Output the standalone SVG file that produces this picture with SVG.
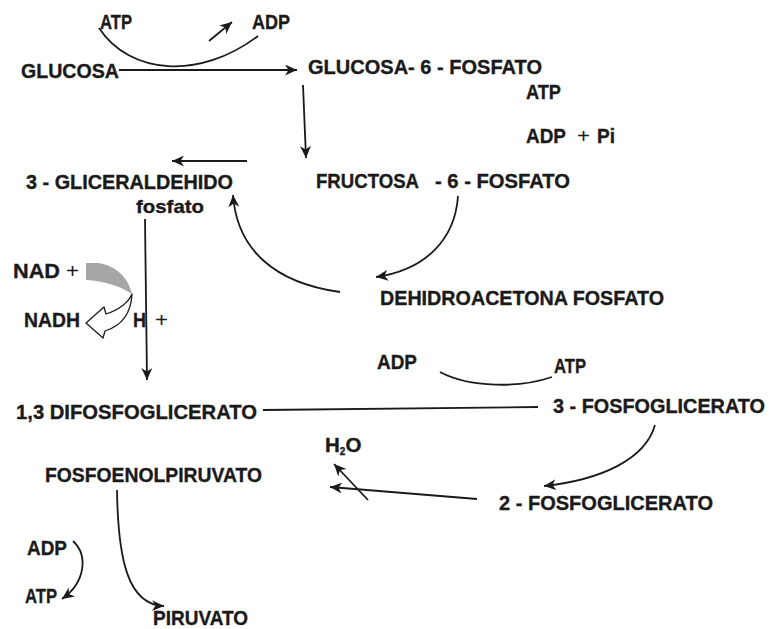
<svg xmlns="http://www.w3.org/2000/svg" width="773" height="629" viewBox="0 0 773 629">
  <defs>
    <style>
      text { font-family: "Liberation Sans", Arial, sans-serif; font-weight: bold; font-size: 20.5px; fill: #1a1a1a; stroke: #1a1a1a; stroke-width: 0.35; }
      .plus { font-weight: normal; stroke-width: 0; }
      .small { font-size: 19px; }
      .sub { font-size: 10px; }
      .line { fill: none; stroke: #1a1a1a; stroke-width: 1.8; }
      .arr { marker-end: url(#head); }
    </style>
    <marker id="head" markerWidth="13" markerHeight="11" refX="12" refY="5.5" orient="auto" markerUnits="userSpaceOnUse">
      <path d="M0,0 L12,5.5 L0,11 L3.5,5.5 z" fill="#1a1a1a"/>
    </marker>
  </defs>
  <rect width="773" height="629" fill="#ffffff"/>

  <!-- connectors -->
  <g id="connectors">
    <path class="line arr" d="M119,70 L297,70"/>
    <path class="line" d="M99,28 C130,75 200,80 258,36"/>
    <path class="line arr" d="M209,41 L232,22"/>
    <path class="line arr" d="M303,85 L306,158"/>
    <path class="line arr" d="M458,196 C455,240 425,270 376,277"/>
    <path class="line arr" d="M247,161 L172,161"/>
    <path class="line arr" d="M340,292 C275,283 237,250 233,195"/>
    <path class="line arr" d="M145,219 L147,380"/>
    <path class="line" d="M440,372 C470,388 520,388 552,377"/>
    <path class="line" d="M263,410 L538,407"/>
    <path class="line arr" d="M655,425 C645,460 600,480 544,486"/>
    <path class="line arr" d="M477,499 L330,487"/>
    <path class="line arr" d="M368,500 L334,464"/>
    <path class="line arr" d="M117,490 C118,560 128,605 164,606"/>
    <path class="line arr" d="M73,541 C88,555 86,582 62,599"/>
  </g>

  <!-- NAD+ / NADH cofactor symbol -->
  <g id="nad-cofactor">
    <path d="M86,263 L98,263 C114,265 128,276 132,294 C120,286 104,281 86,280 Z" fill="#a6a6a6"/>
    <path d="M132,294 C128,303 118,310 106,314 L104,307 L86,323 L103,338 L105,331 C121,326 131,314 132,294 Z" fill="#ffffff" stroke="#1a1a1a" stroke-width="1.3" stroke-linejoin="round"/>
  </g>

  <!-- metabolites and cofactors -->
  <g id="atp-top"><text x="100" y="29" textLength="32" lengthAdjust="spacingAndGlyphs">ATP</text></g>
  <g id="adp-top"><text x="252" y="29" textLength="38" lengthAdjust="spacingAndGlyphs">ADP</text></g>
  <g id="glucosa"><text x="21" y="78" textLength="98" lengthAdjust="spacingAndGlyphs">GLUCOSA</text></g>
  <g id="glucosa-6-fosfato"><text x="308" y="74" textLength="234" lengthAdjust="spacingAndGlyphs">GLUCOSA- 6 - FOSFATO</text></g>
  <g id="atp-pfk"><text x="526" y="99" textLength="35" lengthAdjust="spacingAndGlyphs">ATP</text></g>
  <g id="adp-pi">
    <text x="526" y="143" textLength="40" lengthAdjust="spacingAndGlyphs">ADP</text>
    <text class="plus" x="577" y="143" textLength="13" lengthAdjust="spacingAndGlyphs">+</text>
    <text x="597" y="143" textLength="18" lengthAdjust="spacingAndGlyphs">Pi</text>
  </g>
  <g id="fructosa-6-fosfato">
    <text x="316" y="188" textLength="103" lengthAdjust="spacingAndGlyphs">FRUCTOSA</text>
    <text x="435" y="188" textLength="135" lengthAdjust="spacingAndGlyphs">- 6 - FOSFATO</text>
  </g>
  <g id="gliceraldehido">
    <text x="26" y="189" textLength="207" lengthAdjust="spacingAndGlyphs">3 - GLICERALDEHIDO</text>
    <text class="small" x="136" y="213" textLength="68" lengthAdjust="spacingAndGlyphs">fosfato</text>
  </g>
  <g id="nad">
    <text x="13" y="278" textLength="47" lengthAdjust="spacingAndGlyphs">NAD</text>
    <text class="plus" x="66" y="278" textLength="13" lengthAdjust="spacingAndGlyphs">+</text>
  </g>
  <g id="nadh"><text x="24" y="327" textLength="56" lengthAdjust="spacingAndGlyphs">NADH</text></g>
  <g id="h-plus">
    <text x="133" y="327" textLength="13" lengthAdjust="spacingAndGlyphs">H</text>
    <text class="plus" x="155" y="327" textLength="13" lengthAdjust="spacingAndGlyphs">+</text>
  </g>
  <g id="dehidroacetona"><text x="380" y="305" textLength="284" lengthAdjust="spacingAndGlyphs">DEHIDROACETONA FOSFATO</text></g>
  <g id="adp-pgk"><text x="377" y="369" textLength="40" lengthAdjust="spacingAndGlyphs">ADP</text></g>
  <g id="atp-pgk"><text x="554" y="373" textLength="32" lengthAdjust="spacingAndGlyphs">ATP</text></g>
  <g id="difosfoglicerato"><text x="16" y="419" textLength="241" lengthAdjust="spacingAndGlyphs">1,3 DIFOSFOGLICERATO</text></g>
  <g id="fosfoglicerato-3"><text x="553" y="413" textLength="212" lengthAdjust="spacingAndGlyphs">3 - FOSFOGLICERATO</text></g>
  <g id="agua"><text x="325" y="452">H<tspan class="sub" dy="3">2</tspan><tspan dy="-3">O</tspan></text></g>
  <g id="fosfoenolpiruvato"><text x="45" y="482" textLength="217" lengthAdjust="spacingAndGlyphs">FOSFOENOLPIRUVATO</text></g>
  <g id="fosfoglicerato-2"><text x="499" y="510" textLength="214" lengthAdjust="spacingAndGlyphs">2 - FOSFOGLICERATO</text></g>
  <g id="adp-pk"><text x="27" y="555" textLength="40" lengthAdjust="spacingAndGlyphs">ADP</text></g>
  <g id="atp-pk"><text x="25" y="603" textLength="32" lengthAdjust="spacingAndGlyphs">ATP</text></g>
  <g id="piruvato"><text x="153" y="625" textLength="95" lengthAdjust="spacingAndGlyphs">PIRUVATO</text></g>
</svg>
